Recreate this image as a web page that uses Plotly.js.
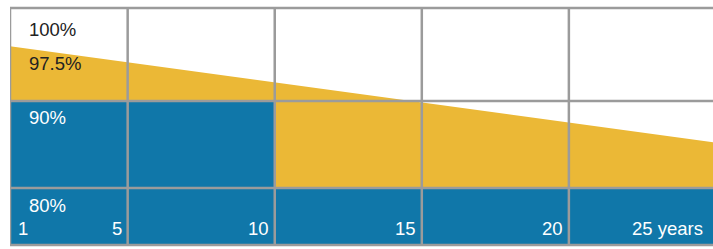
<!DOCTYPE html>
<html>
<head>
<meta charset="utf-8">
<script src="https://cdn.plot.ly/plotly-3.0.1.min.js"></script>
<style>html,body{margin:0;padding:0;background:#fff;}#chart{width:713px;height:249px;}</style>
</head>
<body>
<div id="chart"></div>
<script>
// Linear performance warranty (yellow)
const linearYears = [1, 25];
const linearWarranty = [96.3, 85.2];
// Step warranty (blue): 90% to year 10, 80% to year 25
const stepYears = [1, 10, 25];
const stepWarranty = [90, 80, 80];
// Grid
const gridYears = [5, 10, 15, 20];
const gridLevels = [90, 80];
// Labels
const tickYears = [1, 5, 10, 15, 20, 25];
const tickLabels = ['1', '5', '10', '15', '20', '25 years'];
const levelLabels = ['100%', '97.5%', '90%', '80%'];

const BLUE = '#1077a9';
const YELLOW = '#ebb836';
const GRID = '#9b9b9b';
const FONT = 'Liberation Sans, Arial, sans-serif';
const FS = 18.5;

const traces = [
  {x: linearYears, y: linearWarranty, type: 'scatter', mode: 'lines',
   fill: 'tozeroy', fillcolor: YELLOW, line: {width: 0, color: YELLOW}},
  {x: stepYears, y: stepWarranty, type: 'scatter', mode: 'lines',
   line: {shape: 'hv', width: 0, color: BLUE}, fill: 'tozeroy', fillcolor: BLUE}
];

const shapes = [];
const gl = {color: GRID, width: 2.5};
shapes.push({type: 'line', xref: 'x', yref: 'paper', x0: linearYears[0], x1: linearYears[0], y0: 0, y1: 1, line: gl});
gridYears.forEach(v => shapes.push({type: 'line', xref: 'x', yref: 'paper', x0: v, x1: v, y0: 0, y1: 1, line: gl}));
gridLevels.forEach(v => shapes.push({type: 'line', xref: 'paper', yref: 'y', x0: 0, x1: 1, y0: v, y1: v, line: gl}));
shapes.push({type: 'line', xref: 'paper', yref: 'paper', x0: 0, x1: 1, y0: 1, y1: 1, line: gl});
shapes.push({type: 'line', xref: 'paper', yref: 'paper', x0: 0, x1: 1, y0: 0, y1: 0, line: gl});

const annotations = [];
const levelPos = [0.911, 0.765, 0.536, 0.167];
const levelColors = ['#222222', '#222222', '#ffffff', '#ffffff'];
levelLabels.forEach((t, i) => annotations.push({
  text: t, xref: 'paper', yref: 'paper', x: 0.024, y: levelPos[i],
  xanchor: 'left', yanchor: 'middle', showarrow: false,
  font: {family: FONT, size: FS, color: levelColors[i]}
}));
tickLabels.forEach((t, i) => {
  const first = i === 0;
  const last = i === tickLabels.length - 1;
  annotations.push({
    text: t, xref: last ? 'paper' : 'x', yref: 'paper', x: last ? 1 : tickYears[i], y: 0.07,
    xanchor: first ? 'left' : 'right', yanchor: 'middle',
    xshift: first ? 6 : (last ? -8 : -4), showarrow: false,
    font: {family: FONT, size: FS, color: '#ffffff'}
  });
});

const layout = {
  width: 713, height: 249,
  margin: {l: 10, r: 0, t: 8, b: 4},
  paper_bgcolor: '#ffffff', plot_bgcolor: '#ffffff',
  showlegend: false, hovermode: false,
  xaxis: {range: [1, 24.9], showgrid: false, zeroline: false, showticklabels: false, showline: false, ticks: ''},
  yaxis: {range: [73.45, 100.69], showgrid: false, zeroline: false, showticklabels: false, showline: false, ticks: ''},
  shapes: shapes,
  annotations: annotations
};

Plotly.newPlot('chart', traces, layout, {displayModeBar: false, staticPlot: true});
</script>
</body>
</html>
